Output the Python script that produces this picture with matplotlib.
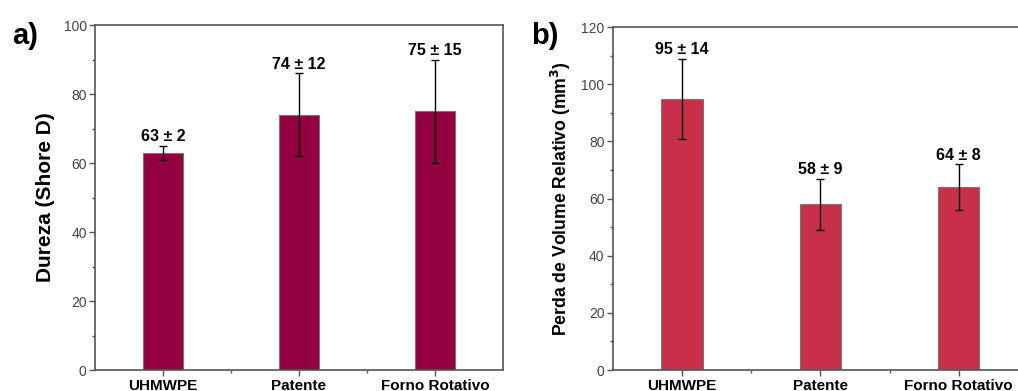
import matplotlib
matplotlib.use("Agg")
import matplotlib.pyplot as plt
from matplotlib.ticker import MultipleLocator, FixedLocator

plt.rcParams['font.family'] = ['Liberation Sans', 'DejaVu Sans']

samples = ["UHMWPE", "Patente", "Forno Rotativo"]

dureza = [63, 74, 75]
dureza_err = [2, 12, 15]

perda = [95, 58, 64]
perda_err = [14, 9, 8]

spine_gray = "#555555"
tick_gray = "#444444"


def style_axes(ax, ymax, ystep):
    ax.set_xlim(0.5, 3.5)
    ax.set_ylim(0, ymax)
    ax.set_xticks([1, 2, 3])
    ax.set_xticklabels(samples, fontsize=11, fontweight="bold")
    ax.xaxis.set_minor_locator(FixedLocator([1.5, 2.5]))
    ax.yaxis.set_major_locator(MultipleLocator(ystep))
    ax.yaxis.set_minor_locator(MultipleLocator(ystep / 2))
    for s in ax.spines.values():
        s.set_color(spine_gray)
        s.set_linewidth(1.2)
    ax.tick_params(axis="both", which="major", direction="out", length=4,
                   width=1, color=spine_gray)
    ax.tick_params(axis="both", which="minor", direction="out", length=2.5,
                   width=1, color=spine_gray)
    ax.tick_params(axis="y", labelsize=10, labelcolor=tick_gray, pad=2)
    ax.tick_params(axis="x", pad=2.5)


def draw_bars(ax, vals, errs, color):
    x = [1, 2, 3]
    ax.bar(x, vals, width=0.3, color=color, edgecolor="#777777",
           linewidth=0.8, zorder=2)
    ax.errorbar(x, vals, yerr=errs, fmt="none", ecolor="black",
                elinewidth=1, capsize=3, capthick=1, zorder=3)
    for xi, v, e in zip(x, vals, errs):
        ax.annotate(f"{v} ± {e}", (xi, v + e), xytext=(0, 1),
                    textcoords="offset points", ha="center", va="bottom",
                    fontsize=11.5, fontweight="bold")


fig = plt.figure(figsize=(10.18, 3.91), dpi=100)

ax1 = fig.add_axes([0.0933, 0.0537, 0.4008, 0.882])
draw_bars(ax1, dureza, dureza_err, "#930040")
style_axes(ax1, 100, 20)
ax1.set_ylabel("Dureza (Shore D)", fontsize=15, fontweight="bold", labelpad=6)

ax2 = fig.add_axes([0.602, 0.0537, 0.4077, 0.877])
draw_bars(ax2, perda, perda_err, "#C8304A")
style_axes(ax2, 120, 20)
ax2.set_ylabel("Perda de Volume Relativo (mm$^\\mathbf{3}$)", fontsize=12.7,
               fontweight="bold", labelpad=6)

fig.text(0.012, 0.945, "a)", fontsize=21, fontweight="bold", va="top")
fig.text(0.522, 0.945, "b)", fontsize=21, fontweight="bold", va="top")

fig.savefig("out.png", dpi=100)
